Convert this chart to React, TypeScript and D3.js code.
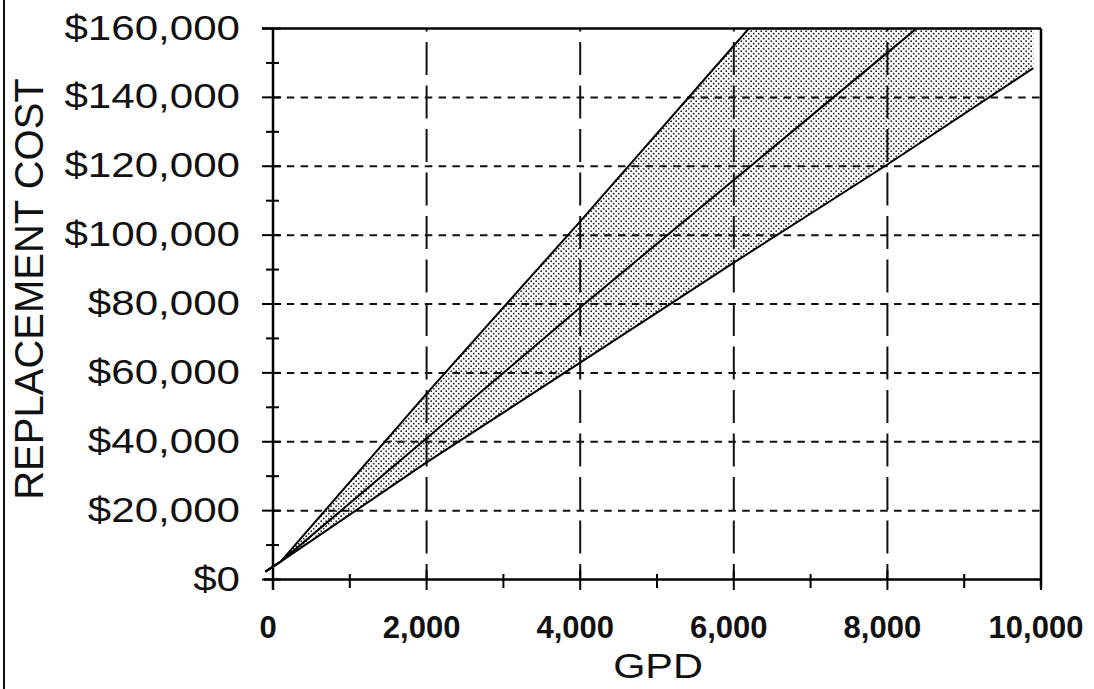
import React from "react";
import * as d3 from "d3";

const gpd = [-100, 100, 2000, 4000, 6000, 8000, 9900];
const lowCost = [2300, 5200, 34000, 63000, 92000, 120500, 148500];
const midCost = [2300, 5200, 41000, 79000, 116000, 153000, 188000];
const highCost = [2300, 5200, 54000, 104000, 155000, 206000, 254000];

const xTicks = [0, 2000, 4000, 6000, 8000, 10000];
const xMinorTicks = [1000, 3000, 5000, 7000, 9000];
const yTicks = [0, 20000, 40000, 60000, 80000, 100000, 120000, 140000, 160000];
const yMinorTicks = [10000, 30000, 50000, 70000, 90000, 110000, 130000, 150000];

const W = 1094;
const H = 689;
const FONT = "'Liberation Sans', Arial, sans-serif";

export default function App() {
  const x = d3.scaleLinear().domain([0, 10000]).range([273, 1041]);
  const y = d3.scaleLinear().domain([0, 160000]).range([579.5, 28.5]);
  const idx = gpd.map((_, i) => i);

  const area = d3
    .area<number>()
    .x((i) => x(gpd[i]))
    .y0((i) => y(lowCost[i]))
    .y1((i) => y(highCost[i]));
  const lineOf = (vals: number[]) =>
    d3
      .line<number>()
      .x((i) => x(gpd[i]))
      .y((i) => y(vals[i]))(idx) || "";

  const fmtY = (v: number) => "$" + d3.format(",")(v);
  const fmtX = d3.format(",");

  const [x0, x1] = x.range();
  const yTop = y(160000);
  const yBot = y(0);

  return (
    <svg
      width={W}
      height={H}
      style={{ position: "absolute", left: 0, top: 0, background: "#fff" }}
    >
      <defs>
        <pattern id="dots" width="5" height="5" patternUnits="userSpaceOnUse">
          <rect width="5" height="5" fill="#fff" />
          <circle cx="1.2" cy="1.2" r="0.9" fill="#222" />
          <circle cx="3.7" cy="3.7" r="0.9" fill="#222" />
        </pattern>
        <clipPath id="plotClip">
          <rect x={0} y={yTop} width={x1} height={H - yTop} />
        </clipPath>
      </defs>

      {/* page border */}
      <line x1={4} x2={4} y1={0} y2={H} stroke="#111" strokeWidth={2} />

      {/* band */}
      <g clipPath="url(#plotClip)">
        <path d={area(idx) || ""} fill="url(#dots)" stroke="none" />
      </g>

      {/* horizontal gridlines */}
      {yTicks
        .filter((v) => v > 0 && v < 160000)
        .map((v) => (
          <line
            key={"hg" + v}
            x1={x0}
            x2={x1}
            y1={y(v)}
            y2={y(v)}
            stroke="#111"
            strokeWidth={2}
            strokeDasharray="7.5,6.3"
          />
        ))}
      {/* vertical gridlines */}
      {xTicks
        .filter((v) => v > 0 && v < 10000)
        .map((v) => (
          <line
            key={"vg" + v}
            x1={x(v)}
            x2={x(v)}
            y1={yTop}
            y2={yBot}
            stroke="#111"
            strokeWidth={2}
            strokeDasharray="33,10.5"
            strokeDashoffset={30}
          />
        ))}

      {/* series lines */}
      <g clipPath="url(#plotClip)" fill="none" stroke="#000" strokeWidth={2}>
        <path d={lineOf(highCost)} />
        <path d={lineOf(midCost)} />
        <path d={lineOf(lowCost)} />
      </g>

      {/* frame */}
      <line x1={262} x2={x1} y1={yTop} y2={yTop} stroke="#000" strokeWidth={2.5} />
      <line x1={x1} x2={x1} y1={yTop} y2={588} stroke="#000" strokeWidth={2.5} />
      <line x1={264} x2={x1} y1={yBot} y2={yBot} stroke="#000" strokeWidth={2.5} />
      <line x1={x0} x2={x0} y1={yTop} y2={590} stroke="#000" strokeWidth={2.5} />

      {/* y ticks */}
      {yTicks.map((v) => (
        <line key={"yt" + v} x1={262} x2={281} y1={y(v)} y2={y(v)} stroke="#000" strokeWidth={2} />
      ))}
      {yMinorTicks.map((v) => (
        <line key={"ym" + v} x1={266} x2={279} y1={y(v)} y2={y(v)} stroke="#000" strokeWidth={2} />
      ))}
      {/* x ticks */}
      {xTicks.map((v) => (
        <line key={"xt" + v} x1={x(v)} x2={x(v)} y1={570} y2={590} stroke="#000" strokeWidth={2} />
      ))}
      {xMinorTicks.map((v) => (
        <line key={"xm" + v} x1={x(v)} x2={x(v)} y1={574} y2={588} stroke="#000" strokeWidth={2} />
      ))}

      {/* y tick labels */}
      {yTicks.map((v) => (
        <text
          key={"yl" + v}
          transform={`translate(240, ${y(v) + 11}) scale(1.17, 1)`}
          textAnchor="end"
          fontFamily={FONT}
          fontSize={36}
          fill="#111"
        >
          {fmtY(v)}
        </text>
      ))}

      {/* x tick labels */}
      {xTicks.map((v) => (
        <text
          key={"xl" + v}
          x={x(v) - 5}
          y={638}
          textAnchor="middle"
          fontFamily={FONT}
          fontWeight="bold"
          fontSize={31}
          fill="#111"
        >
          {fmtX(v)}
        </text>
      ))}

      {/* axis titles */}
      <text
        transform={`translate(${(x0 + x1) / 2 + 1}, 678) scale(1.15, 1)`}
        textAnchor="middle"
        fontFamily={FONT}
        fontSize={36}
        fill="#111"
      >
        GPD
      </text>
      <text
        transform={`translate(43, 289) rotate(-90)`}
        textAnchor="middle"
        fontFamily={FONT}
        fontSize={40}
        fill="#111"
      >
        REPLACEMENT COST
      </text>
    </svg>
  );
}
